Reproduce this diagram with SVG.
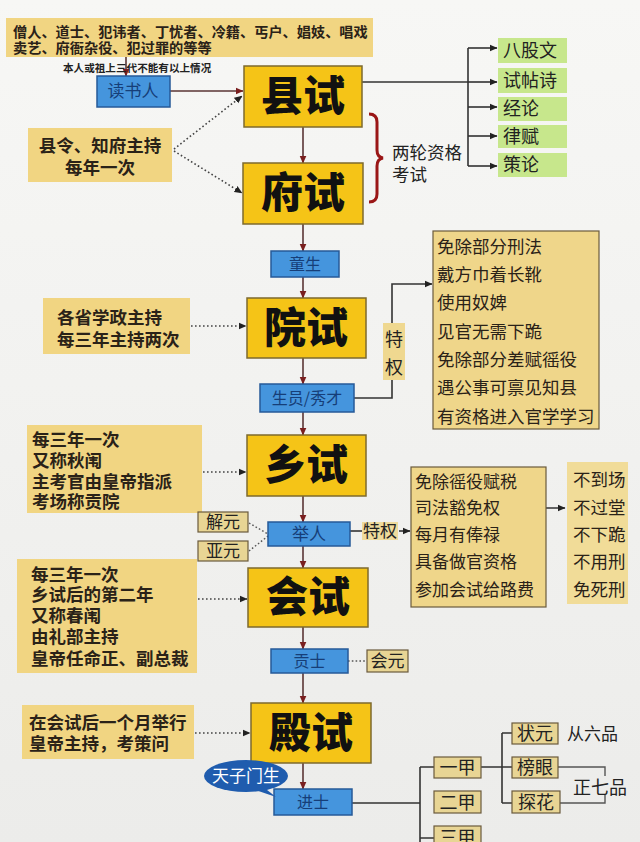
<svg xmlns="http://www.w3.org/2000/svg" width="640" height="842" viewBox="0 0 640 842">
<defs>
<marker id="ah" markerWidth="8" markerHeight="8" refX="7.5" refY="4" orient="auto" markerUnits="userSpaceOnUse"><path d="M0,0.5 L8,4 L0,7.5 z" fill="#7a1f1f"/></marker>
<marker id="ak" markerWidth="8" markerHeight="8" refX="7.5" refY="4" orient="auto" markerUnits="userSpaceOnUse"><path d="M0,0.5 L8,4 L0,7.5 z" fill="#222"/></marker>
<linearGradient id="bg" x1="0" y1="0" x2="0" y2="1"><stop offset="0" stop-color="#f7f7f5"/><stop offset="1" stop-color="#ececea"/></linearGradient>
</defs>
<style>
text{font-family:"Noto Sans CJK SC","Noto Sans",sans-serif;}
.note{fill:#f1d582;}
.main{fill:#f5c417;stroke:#7d6a2e;stroke-width:1.5;}
.mt{font-size:42px;font-weight:900;fill:#111;text-anchor:middle;}
.blue{fill:#4595dd;stroke:#265a98;stroke-width:1.5;}
.bt{font-size:16px;fill:#163e78;text-anchor:middle;}
.nt{font-size:17.5px;font-weight:bold;fill:#2a2218;}
.green{fill:#c7e78c;}
.gt{font-size:18px;fill:#222;}
.list{fill:#efd68a;stroke:#6a5a3c;stroke-width:1.2;}
.lt{font-size:17.5px;fill:#2a2218;}
.tag{fill:#e8d594;stroke:#6a5a3c;stroke-width:1.2;}
.line{stroke:#333;stroke-width:1.6;fill:none;}
.vl{stroke:#5a3535;stroke-width:1.6;fill:none;marker-end:url(#ah);}
.dot{stroke:#444;stroke-width:1.6;fill:none;stroke-dasharray:1.6,2.4;marker-end:url(#ak);}
.gl{stroke:#555;stroke-width:1.4;fill:none;}
</style>
<rect width="640" height="842" fill="url(#bg)"/>

<g id="connectors">
<line class="vl" x1="126" y1="57" x2="126" y2="76"/>
<line class="vl" x1="170" y1="91" x2="243" y2="91"/>
<path class="dot" d="M174,149 L242,96"/>
<path class="dot" d="M174,151 L242,193"/>
<line class="vl" x1="303" y1="127" x2="303" y2="163"/>
<line class="vl" x1="303" y1="224" x2="303" y2="251"/>
<line class="vl" x1="303" y1="277" x2="303" y2="298"/>
<line class="vl" x1="303" y1="358" x2="303" y2="384"/>
<line class="vl" x1="303" y1="412" x2="303" y2="435"/>
<line class="vl" x1="303" y1="496" x2="303" y2="522"/>
<line class="vl" x1="303" y1="546" x2="303" y2="568"/>
<line class="vl" x1="303" y1="627" x2="303" y2="649"/>
<line class="vl" x1="303" y1="673" x2="303" y2="703"/>
<line class="vl" x1="303" y1="763" x2="303" y2="789"/>
<path class="dot" d="M191,326 L246,326"/>
<path class="dot" d="M203,472 L246,472"/>
<path class="dot" d="M198,599 L247,599"/>
<path class="dot" d="M195,733 L250,733"/>
<path class="line" d="M362,82 L468,82"/>
<path class="line" d="M468,48 L468,166"/>
<path class="line" marker-end="url(#ak)" d="M468,48 L497,48"/>
<path class="line" marker-end="url(#ak)" d="M468,82 L497,82"/>
<path class="line" marker-end="url(#ak)" d="M468,107 L497,107"/>
<path class="line" marker-end="url(#ak)" d="M468,136 L497,136"/>
<path class="line" marker-end="url(#ak)" d="M468,166 L497,166"/>
<path d="M369,114 Q377,114 377,122 L377,150 Q377,157 383,158 Q377,159 377,166 L377,194 Q377,202 369,202" fill="none" stroke="#9a1616" stroke-width="3"/>
<path class="line" marker-end="url(#ak)" d="M354,398 L392,398 L392,284 L432,284"/>
<path d="M249,523 L268,534 M249,551 L268,536" fill="none" stroke="#555" stroke-width="1.4" stroke-dasharray="1.6,2.2"/>
<line class="line" x1="350" y1="531" x2="362" y2="531"/>
<path class="line" marker-end="url(#ak)" d="M399,531 L410,531"/>
<path class="line" marker-end="url(#ak)" d="M503,508 L565,508"/>
<path d="M348,661 L367,661" fill="none" stroke="#555" stroke-width="1.4" stroke-dasharray="1.6,2.2"/>
<path class="line" d="M352,803 L420,803 M420,767 L420,842 M420,767 L434,767 M420,838 L434,838"/>
<path class="line" d="M481,767 L512,767 M502,733 L502,803 M502,733 L512,733 M502,803 L512,803"/>
<path class="gl" d="M558,767 L605,767 L605,776 M560,803 L605,803 L605,794"/>
</g>

<g id="restriction-note">
<rect class="note" x="6" y="18" width="367" height="39"/>
<text x="13" y="37" style="font-size:14.2px;font-weight:bold;fill:#2a2218">僧人、道士、犯讳者、丁忧者、冷籍、丐户、娼妓、唱戏</text>
<text x="13" y="53" style="font-size:14.2px;font-weight:bold;fill:#2a2218">卖艺、府衙杂役、犯过罪的等等</text>
<text x="63" y="72" style="font-size:10.6px;font-weight:bold;fill:#222">本人或祖上三代不能有以上情况</text>
</g>

<g id="dushuren"><rect class="blue" x="97" y="76" width="73" height="31"/><text class="bt" x="133" y="97" style="font-size:17px">读书人</text></g>

<g id="xianshi"><rect class="main" x="244" y="66" width="118" height="61"/><text class="mt" x="303" y="111">县试</text></g>
<g id="fushi"><rect class="main" x="243" y="163" width="120" height="61"/><text class="mt" x="303" y="208">府试</text></g>
<g id="tongsheng"><rect class="blue" x="271" y="251" width="68" height="26"/><text class="bt" x="305" y="270">童生</text></g>
<g id="yuanshi"><rect class="main" x="247" y="298" width="119" height="60"/><text class="mt" x="306" y="343">院试</text></g>
<g id="shengyuan"><rect class="blue" x="260" y="384" width="94" height="28"/><text class="bt" x="307" y="404">生员/秀才</text></g>
<g id="xiangshi"><rect class="main" x="247" y="435" width="119" height="61"/><text class="mt" x="306" y="480">乡试</text></g>
<g id="juren"><rect class="blue" x="268" y="522" width="82" height="24"/><text class="bt" x="309" y="540" style="font-size:17px">举人</text></g>
<g id="huishi"><rect class="main" x="248" y="568" width="120" height="59"/><text class="mt" x="308" y="612">会试</text></g>
<g id="gongshi"><rect class="blue" x="271" y="649" width="77" height="24"/><text class="bt" x="309.5" y="667">贡士</text></g>
<g id="dianshi"><rect class="main" x="251" y="703" width="120" height="60"/><text class="mt" x="311" y="748">殿试</text></g>
<g id="jinshi"><rect class="blue" x="274" y="789" width="78" height="26"/><text class="bt" x="313" y="808">进士</text></g>

<g id="tianzi">
<path d="M250,788 L276,797 L262,786 z" fill="#1f5cae"/>
<ellipse cx="246" cy="776" rx="42" ry="16" fill="#1f5cae"/>
<text x="246" y="782" style="font-size:17px;fill:#fff;text-anchor:middle">天子门生</text>
</g>

<g id="note-xian"><rect class="note" x="28" y="128" width="144" height="54"/><text class="nt" x="100" y="152" text-anchor="middle">县令、知府主持</text><text class="nt" x="100" y="174" text-anchor="middle">每年一次</text></g>
<g id="note-yuan"><rect class="note" x="43" y="298" width="147" height="56"/><text class="nt" x="57" y="324">各省学政主持</text><text class="nt" x="57" y="346">每三年主持两次</text></g>
<g id="note-xiang"><rect class="note" x="27" y="425" width="175" height="88"/>
<text class="nt" x="32" y="446">每三年一次</text><text class="nt" x="32" y="467">又称秋闱</text><text class="nt" x="32" y="488">主考官由皇帝指派</text><text class="nt" x="32" y="508">考场称贡院</text></g>
<g id="note-hui"><rect class="note" x="17" y="559" width="180" height="114"/>
<text class="nt" x="31" y="581">每三年一次</text><text class="nt" x="31" y="601">乡试后的第二年</text><text class="nt" x="31" y="622">又称春闱</text><text class="nt" x="31" y="643">由礼部主持</text><text class="nt" x="31" y="665">皇帝任命正、副总裁</text></g>
<g id="note-dian"><rect class="note" x="22" y="705" width="172" height="54"/><text class="nt" x="29" y="729">在会试后一个月举行</text><text class="nt" x="29" y="750">皇帝主持，考策问</text></g>

<g id="subjects">
<rect class="green" x="498" y="38" width="69" height="25"/><text class="gt" x="503" y="57">八股文</text>
<rect class="green" x="498" y="68" width="69" height="25"/><text class="gt" x="503" y="87">试帖诗</text>
<rect class="green" x="498" y="97" width="69" height="24"/><text class="gt" x="503" y="115">经论</text>
<rect class="green" x="498" y="125" width="69" height="23"/><text class="gt" x="503" y="143">律赋</text>
<rect class="green" x="498" y="153" width="69" height="24"/><text class="gt" x="503" y="171">策论</text>
</g>
<g id="two-rounds"><text x="392" y="159" style="font-size:17.5px;fill:#222">两轮资格</text><text x="392" y="181" style="font-size:17.5px;fill:#222">考试</text></g>

<g id="tequan1"><rect class="tag" x="383" y="323" width="22" height="57" style="fill:#efd890;stroke:none"/><text x="394" y="346" style="font-size:18px;fill:#222;text-anchor:middle">特</text><text x="394" y="374" style="font-size:18px;fill:#222;text-anchor:middle">权</text></g>
<g id="priv-shengyuan"><rect class="list" x="433" y="231" width="166" height="198"/>
<text class="lt" x="437" y="253">免除部分刑法</text>
<text class="lt" x="437" y="281">戴方巾着长靴</text>
<text class="lt" x="437" y="309">使用奴婢</text>
<text class="lt" x="437" y="338">见官无需下跪</text>
<text class="lt" x="437" y="366">免除部分差赋徭役</text>
<text class="lt" x="437" y="394">遇公事可禀见知县</text>
<text class="lt" x="437" y="423">有资格进入官学学习</text></g>

<g id="jieyuan"><rect class="tag" x="198" y="512" width="50" height="20"/><text x="223" y="528" style="font-size:17px;fill:#222;text-anchor:middle">解元</text></g>
<g id="yayuan"><rect class="tag" x="198" y="541" width="50" height="20"/><text x="223" y="557" style="font-size:17px;fill:#222;text-anchor:middle">亚元</text></g>
<g id="tequan2"><rect x="362" y="522" width="36" height="18" fill="#efdb9c"/><text x="380" y="537" style="font-size:17px;fill:#222;text-anchor:middle">特权</text></g>
<g id="priv-juren"><rect class="list" x="411" y="467" width="135" height="140"/>
<text class="lt" x="415" y="488" style="font-size:17px">免除徭役赋税</text>
<text class="lt" x="415" y="514" style="font-size:17px">司法豁免权</text>
<text class="lt" x="415" y="541" style="font-size:17px">每月有俸禄</text>
<text class="lt" x="415" y="568" style="font-size:17px">具备做官资格</text>
<text class="lt" x="415" y="596" style="font-size:17px">参加会试给路费</text></g>
<g id="immunity"><rect x="567" y="462" width="61" height="142" fill="#f1dc98"/>
<text class="lt" x="573" y="486" style="font-size:17.5px">不到场</text>
<text class="lt" x="573" y="514" style="font-size:17.5px">不过堂</text>
<text class="lt" x="573" y="541" style="font-size:17.5px">不下跪</text>
<text class="lt" x="573" y="568" style="font-size:17.5px">不用刑</text>
<text class="lt" x="573" y="596" style="font-size:17.5px">免死刑</text></g>

<g id="huiyuan"><rect class="tag" x="367" y="650" width="41" height="22"/><text x="387.5" y="667" style="font-size:17px;fill:#222;text-anchor:middle">会元</text></g>

<g id="yijia"><rect class="tag" x="434" y="757" width="47" height="21"/><text x="457.5" y="774" style="font-size:18px;fill:#222;text-anchor:middle">一甲</text></g>
<g id="erjia"><rect class="tag" x="434" y="791" width="47" height="22"/><text x="457.5" y="809" style="font-size:18px;fill:#222;text-anchor:middle">二甲</text></g>
<g id="sanjia"><rect class="tag" x="434" y="826" width="47" height="22"/><text x="457.5" y="844" style="font-size:18px;fill:#222;text-anchor:middle">三甲</text></g>
<g id="zhuangyuan"><rect class="tag" x="512" y="723" width="46" height="21"/><text x="535" y="740" style="font-size:18px;fill:#222;text-anchor:middle">状元</text></g>
<g id="bangyan"><rect class="tag" x="512" y="757" width="46" height="21"/><text x="535" y="774" style="font-size:18px;fill:#222;text-anchor:middle">榜眼</text></g>
<g id="tanhua"><rect class="tag" x="512" y="791" width="48" height="22"/><text x="536" y="809" style="font-size:18px;fill:#222;text-anchor:middle">探花</text></g>
<g id="ranks"><text x="567" y="740" style="font-size:17px;fill:#222">从六品</text><text x="573" y="794" style="font-size:18px;fill:#222">正七品</text></g>
</svg>
